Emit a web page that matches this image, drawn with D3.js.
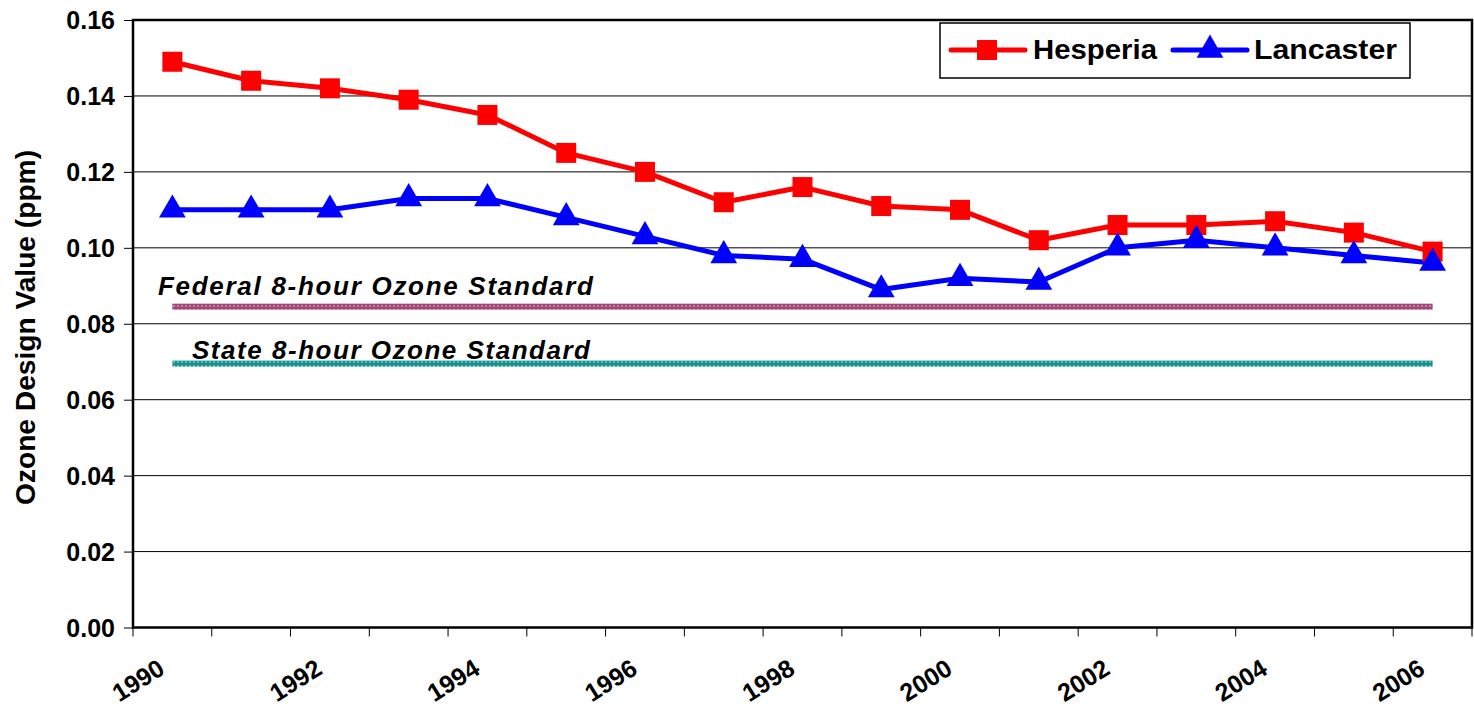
<!DOCTYPE html>
<html>
<head>
<meta charset="utf-8">
<script src="https://cdn.jsdelivr.net/npm/d3@7"></script>
<style>
  html, body { margin: 0; padding: 0; background: #fff; }
  svg { display: block; font-family: "Liberation Sans", Arial, sans-serif; }
</style>
</head>
<body>
<svg id="chart" width="1474" height="709"></svg>
<script>
// ---- data ----
const years = ["1990","1991","1992","1993","1994","1995","1996","1997","1998","1999","2000","2001","2002","2003","2004","2005","2006"];
const hesperia = [0.149,0.144,0.142,0.139,0.135,0.125,0.120,0.112,0.116,0.111,0.110,0.102,0.106,0.106,0.107,0.104,0.099];
const lancaster = [0.110,0.110,0.110,0.113,0.113,0.108,0.103,0.098,0.097,0.089,0.092,0.091,0.100,0.102,0.100,0.098,0.096];
const yTicks = [0,0.02,0.04,0.06,0.08,0.10,0.12,0.14,0.16];
const xLabelYears = ["1990","1992","1994","1996","1998","2000","2002","2004","2006"];
const federalStd = 0.0845;
const stateStd = 0.0695;
const seriesNames = ["Hesperia","Lancaster"];
const yTitle = "Ozone Design Value (ppm)";
const federalLabel = "Federal 8-hour Ozone Standard";
const stateLabel = "State 8-hour Ozone Standard";

// ---- layout ----
const L = 133, R = 1472, T = 20, B = 627.5;
const svg = d3.select("#chart");

const x = d3.scaleBand().domain(years).range([L, R]).padding(0);
const bw = x.bandwidth();
const cx = d => x(d) + bw / 2;
const y = d3.scaleLinear().domain([0, 0.16]).range([B, T]);

// patterns for standard lines
const defs = svg.append("defs");
function makePattern(id, base, dot) {
  const p = defs.append("pattern").attr("id", id).attr("patternUnits", "userSpaceOnUse")
    .attr("width", 4).attr("height", 4);
  p.append("rect").attr("width", 4).attr("height", 4).attr("fill", base);
  p.append("rect").attr("x", 1).attr("y", 1).attr("width", 2).attr("height", 2).attr("fill", dot);
}
makePattern("fedPat", "#a04678", "#c97ea8");
makePattern("statePat", "#1c8e8e", "#52b8b8");

// gridlines
svg.append("g").selectAll("line").data(yTicks.filter(v => v > 0 && v < 0.16)).join("line")
  .attr("x1", L).attr("x2", R).attr("y1", d => y(d)).attr("y2", d => y(d))
  .attr("stroke", "#000").attr("stroke-width", 1);

// y axis
const yAxis = d3.axisLeft(y).tickValues(yTicks).tickFormat(d3.format(".2f")).tickSize(9).tickPadding(9);
const gy = svg.append("g").attr("transform", `translate(${L},0)`).call(yAxis);
gy.select(".domain").remove();
gy.selectAll(".tick line").attr("stroke", "#000").attr("stroke-width", 1);
gy.selectAll(".tick text").attr("font-size", 25).attr("font-weight", "bold")
  .attr("fill", "#000").attr("font-family", "Liberation Sans, Arial, sans-serif")
  .attr("dy", "0.34em");

// x axis ticks at band boundaries
const bounds = years.map(d => x(d)).concat([R]);
svg.append("g").selectAll("line").data(bounds).join("line")
  .attr("x1", d => d).attr("x2", d => d).attr("y1", B).attr("y2", B + 9)
  .attr("stroke", "#000").attr("stroke-width", 1);

// x labels
svg.append("g").selectAll("text").data(xLabelYears).join("text")
  .attr("transform", d => `translate(${cx(d) - 6},${673}) rotate(-32)`)
  .attr("text-anchor", "end")
  .attr("font-size", 25).attr("font-weight", "bold")
  .text(d => d);

// y title
svg.append("text")
  .attr("transform", `translate(35,${(150 + 505) / 2}) rotate(-90)`)
  .attr("text-anchor", "middle")
  .attr("font-size", 27).attr("font-weight", "bold")
  .attr("textLength", 355).attr("lengthAdjust", "spacingAndGlyphs")
  .text(yTitle);

// standard lines
const stdH = 6;
svg.append("rect").attr("x", cx(years[0])).attr("width", cx(years[years.length - 1]) - cx(years[0]))
  .attr("y", y(federalStd) - stdH / 2).attr("height", stdH).attr("fill", "url(#fedPat)");
svg.append("rect").attr("x", cx(years[0])).attr("width", cx(years[years.length - 1]) - cx(years[0]))
  .attr("y", y(stateStd) - stdH / 2).attr("height", stdH).attr("fill", "url(#statePat)");

svg.append("text").attr("x", 158).attr("y", 295)
  .attr("font-size", 26).attr("font-weight", "bold").attr("font-style", "italic")
  .attr("textLength", 435).attr("lengthAdjust", "spacing")
  .text(federalLabel);
svg.append("text").attr("x", 192).attr("y", 359)
  .attr("font-size", 26).attr("font-weight", "bold").attr("font-style", "italic")
  .attr("textLength", 398).attr("lengthAdjust", "spacing")
  .text(stateLabel);

// plot border
svg.append("rect").attr("x", L).attr("y", T).attr("width", R - L).attr("height", B - T)
  .attr("fill", "none").attr("stroke", "#000").attr("stroke-width", 2.5);

// series
const line = d3.line().x((d, i) => cx(years[i])).y(d => y(d));
svg.append("path").datum(hesperia).attr("d", line).attr("fill", "none")
  .attr("stroke", "#ff0000").attr("stroke-width", 5).attr("stroke-linejoin", "round");
svg.append("path").datum(lancaster).attr("d", line).attr("fill", "none")
  .attr("stroke", "#0000ff").attr("stroke-width", 5).attr("stroke-linejoin", "round");

const sq = 20;
svg.append("g").selectAll("rect").data(hesperia).join("rect")
  .attr("x", (d, i) => cx(years[i]) - sq / 2).attr("y", d => y(d) - sq / 2)
  .attr("width", sq).attr("height", sq).attr("fill", "#ff0000");

const tri = d3.symbol().type(d3.symbolTriangle).size(310);
svg.append("g").selectAll("path").data(lancaster).join("path")
  .attr("transform", (d, i) => `translate(${cx(years[i])},${y(d)})`)
  .attr("d", tri).attr("fill", "#0000ff");

// legend
const lg = svg.append("g");
lg.append("rect").attr("x", 940).attr("y", 23).attr("width", 470).attr("height", 55)
  .attr("fill", "#fff").attr("stroke", "#000").attr("stroke-width", 1.5);
// Hesperia
lg.append("line").attr("x1", 951).attr("x2", 1025).attr("y1", 50).attr("y2", 50)
  .attr("stroke", "#ff0000").attr("stroke-width", 5).attr("stroke-linecap", "round");
lg.append("rect").attr("x", 987 - sq / 2).attr("y", 50 - sq / 2).attr("width", sq).attr("height", sq)
  .attr("fill", "#ff0000");
lg.append("text").attr("x", 1033).attr("y", 59).attr("font-size", 28).attr("font-weight", "bold")
  .attr("textLength", 124).attr("lengthAdjust", "spacingAndGlyphs").text(seriesNames[0]);
// Lancaster
lg.append("line").attr("x1", 1173).attr("x2", 1247).attr("y1", 50).attr("y2", 50)
  .attr("stroke", "#0000ff").attr("stroke-width", 5).attr("stroke-linecap", "round");
lg.append("path").attr("transform", "translate(1210,50)").attr("d", tri).attr("fill", "#0000ff");
lg.append("text").attr("x", 1254).attr("y", 59).attr("font-size", 28).attr("font-weight", "bold")
  .attr("textLength", 143).attr("lengthAdjust", "spacingAndGlyphs").text(seriesNames[1]);
</script>
</body>
</html>
